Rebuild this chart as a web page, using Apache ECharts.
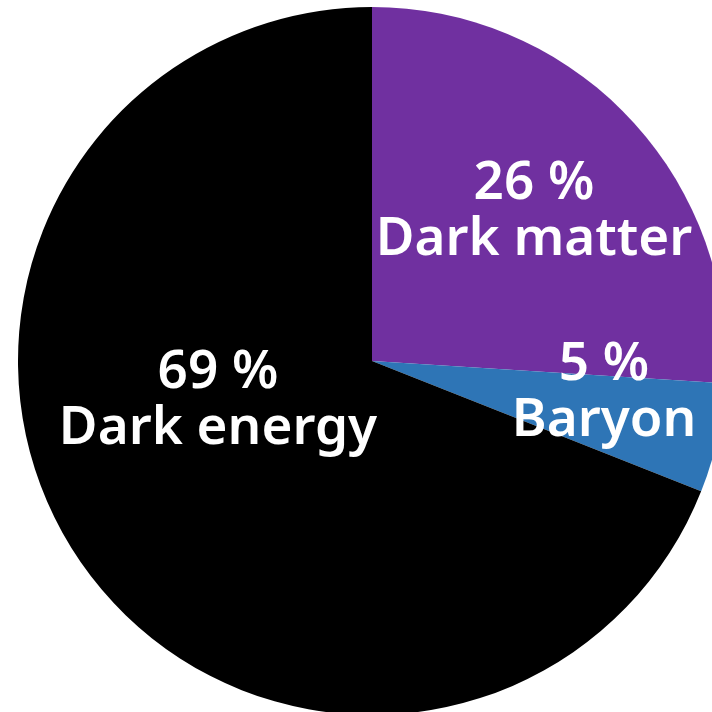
<!DOCTYPE html>
<html>
<head>
<meta charset="utf-8">
<script src="https://cdn.jsdelivr.net/npm/echarts@6/dist/echarts.min.js"></script>
<style>
  html, body { margin: 0; padding: 0; background: #ffffff; }
  #chart { width: 712px; height: 712px; }
</style>
</head>
<body>
<div id="chart"></div>
<script>
// Composition of the universe
const names = ['Dark matter', 'Baryon', 'Dark energy'];
const percents = [26, 5, 69];
const colors = ['#7030A0', '#2E75B6', '#000000'];

// Label anchor points (pixels) for each slice, in the same order as names
const labelSpots = [[534, 212], [604, 393], [218, 401]];

const chart = echarts.init(document.getElementById('chart'), null, { renderer: 'canvas' });

chart.setOption({
  animation: false,
  backgroundColor: '#ffffff',
  series: [{
    type: 'pie',
    center: [372, 361],
    radius: [0, 354],
    startAngle: 90,
    clockwise: true,
    silent: true,
    itemStyle: { borderWidth: 0 },
    label: {
      show: true,
      position: 'inside',
      color: '#ffffff',
      fontFamily: '"Noto Sans", Roboto, sans-serif',
      fontWeight: 600,
      fontSize: 53,
      lineHeight: 56,
      align: 'center',
      verticalAlign: 'middle',
      formatter: p => p.value + ' %\n' + p.name
    },
    labelLine: { show: false },
    labelLayout: params => ({
      x: labelSpots[params.dataIndex][0],
      y: labelSpots[params.dataIndex][1],
      align: 'center',
      verticalAlign: 'middle'
    }),
    data: names.map((n, i) => ({
      name: n,
      value: percents[i],
      itemStyle: { color: colors[i] }
    }))
  }]
});
</script>
</body>
</html>
